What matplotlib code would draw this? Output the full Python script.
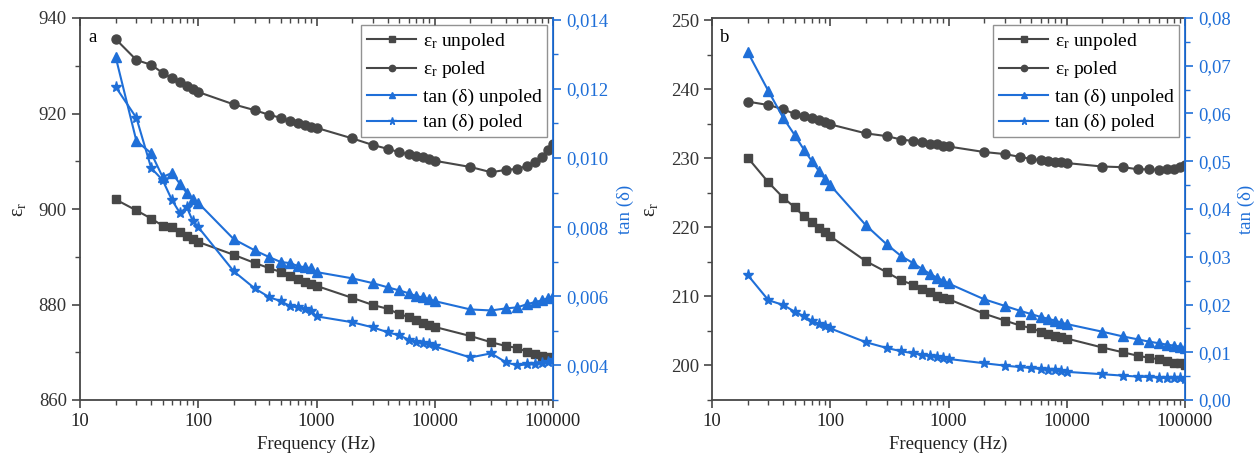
import matplotlib
matplotlib.use("Agg")
import matplotlib.pyplot as plt
from matplotlib.ticker import FuncFormatter, MultipleLocator, LogLocator, NullFormatter

# frequencies (Hz)
freq = [20, 30, 40, 50, 60, 70, 80, 90,
        100, 200, 300, 400, 500, 600, 700, 800, 900,
        1000, 2000, 3000, 4000, 5000, 6000, 7000, 8000, 9000,
        10000, 20000, 30000, 40000, 50000, 60000, 70000, 80000, 90000,
        100000]

# panel a
a_er_unpoled = [902.0, 899.7, 898.0, 896.5, 896.2, 895.2, 894.3, 893.7,
                893.1, 890.4, 888.7, 887.6, 886.8, 886.0, 885.3, 884.7, 884.3,
                883.9, 881.4, 879.9, 879.1, 878.0, 877.4, 876.8, 876.1, 875.7,
                875.3, 873.4, 872.1, 871.3, 870.9, 870.1, 869.6, 869.2, 869.0,
                868.8]
a_er_poled = [935.6, 931.2, 930.2, 928.5, 927.4, 926.6, 925.8, 925.1,
              924.5, 921.9, 920.7, 919.7, 919.1, 918.4, 918.0, 917.6, 917.2,
              917.0, 914.8, 913.4, 912.6, 911.9, 911.5, 911.1, 910.9, 910.5,
              910.1, 908.8, 907.7, 908.2, 908.4, 909.0, 909.8, 910.9, 912.3,
              913.6]
a_tan_unpoled = [0.01293, 0.01049, 0.01014, 0.00945, 0.00957, 0.00925, 0.00899, 0.00881,
                 0.00870, 0.00765, 0.00733, 0.00713, 0.00699, 0.00696, 0.00687, 0.00684, 0.00681,
                 0.00670, 0.00652, 0.00638, 0.00626, 0.00617, 0.00609, 0.00600, 0.00597, 0.00591,
                 0.00586, 0.00562, 0.00559, 0.00565, 0.00568, 0.00577, 0.00583, 0.00588, 0.00594,
                 0.00600]
a_tan_poled = [0.01206, 0.01116, 0.00971, 0.00936, 0.00878, 0.00841, 0.00858, 0.00817,
               0.00800, 0.00672, 0.00623, 0.00597, 0.00586, 0.00571, 0.00568, 0.00562, 0.00557,
               0.00542, 0.00525, 0.00510, 0.00496, 0.00487, 0.00475, 0.00467, 0.00464, 0.00461,
               0.00455, 0.00423, 0.00435, 0.00409, 0.00400, 0.00403, 0.00403, 0.00406, 0.00409,
               0.00415]

# panel b
b_er_unpoled = [230.1, 226.5, 224.3, 222.9, 221.6, 220.7, 219.9, 219.3,
                218.7, 215.1, 213.5, 212.3, 211.7, 211.0, 210.6, 210.0, 209.7,
                209.6, 207.5, 206.5, 205.8, 205.4, 204.9, 204.6, 204.3, 204.1,
                203.9, 202.6, 201.9, 201.4, 201.1, 200.9, 200.6, 200.4, 200.3,
                200.1]
b_er_poled = [238.2, 237.7, 237.1, 236.4, 236.1, 235.8, 235.5, 235.3,
              234.9, 233.6, 233.2, 232.7, 232.5, 232.3, 232.1, 232.0, 231.8,
              231.7, 230.9, 230.6, 230.2, 229.9, 229.7, 229.6, 229.4, 229.4,
              229.3, 228.8, 228.7, 228.4, 228.4, 228.3, 228.4, 228.4, 228.7,
              229.0]
b_tan_unpoled = [0.0729, 0.0647, 0.0591, 0.0555, 0.0524, 0.0500, 0.0480, 0.0463,
                 0.0450, 0.0366, 0.0326, 0.0301, 0.0287, 0.0274, 0.0264, 0.0256, 0.0250,
                 0.0244, 0.0211, 0.0197, 0.0187, 0.0180, 0.0174, 0.0170, 0.0166, 0.0162,
                 0.0159, 0.0143, 0.0133, 0.0127, 0.0122, 0.0119, 0.0116, 0.0114, 0.0112,
                 0.0108]
b_tan_poled = [0.0262, 0.0209, 0.0199, 0.0185, 0.0175, 0.0166, 0.0159, 0.0155,
               0.0150, 0.0121, 0.0109, 0.0102, 0.0098, 0.0094, 0.0092, 0.0090, 0.0088,
               0.0086, 0.0077, 0.0072, 0.0069, 0.0067, 0.0065, 0.0063, 0.0062, 0.0061,
               0.0059, 0.0054, 0.0051, 0.0049, 0.0048, 0.0047, 0.0046, 0.0046, 0.0046,
               0.0045]

GRAY = '#474747'
BLUE = '#1f6fd8'

plt.rcParams['font.family'] = ['Liberation Serif', 'DejaVu Serif']
plt.rcParams['mathtext.fontset'] = 'custom'
plt.rcParams['mathtext.rm'] = 'Liberation Serif'
plt.rcParams['mathtext.it'] = 'Liberation Serif'
plt.rcParams['font.size'] = 13.5

ER = 'ε$_\\mathrm{r}$'


def comma_fmt(decimals):
    return FuncFormatter(lambda v, p: f'{v:.{decimals}f}'.replace('.', ','))


def panel(rect, letter, er_un, er_po, tan_un, tan_po, ylim, ymaj, ymin, y2lim, y2maj, y2min, dec, rpad):
    ax = fig.add_axes(rect)
    ax2 = ax.twinx()

    l1, = ax.plot(freq, er_un, '-s', color=GRAY, ms=6, lw=1.5, label=ER + ' unpoled')
    l2, = ax.plot(freq, er_po, '-o', color=GRAY, ms=6.5, lw=1.5, label=ER + ' poled')
    l3, = ax2.plot(freq, tan_un, '-^', color=BLUE, ms=7, lw=1.5, label='tan (δ) unpoled')
    l4, = ax2.plot(freq, tan_po, '-*', color=BLUE, ms=8, lw=1.5, label='tan (δ) poled')

    ax.set_xscale('log')
    ax.set_xlim(10, 100000)
    ax.xaxis.set_major_locator(LogLocator(base=10, numticks=10))
    ax.xaxis.set_minor_locator(LogLocator(base=10, subs=range(2, 10), numticks=20))
    ax.xaxis.set_minor_formatter(NullFormatter())
    ax.xaxis.set_major_formatter(FuncFormatter(lambda v, p: f'{int(round(v))}'))

    ax.set_ylim(*ylim)
    ax.yaxis.set_major_locator(MultipleLocator(ymaj))
    ax.yaxis.set_minor_locator(MultipleLocator(ymin))
    ax2.set_ylim(*y2lim)
    ax2.yaxis.set_major_locator(MultipleLocator(y2maj))
    ax2.yaxis.set_minor_locator(MultipleLocator(y2min))
    ax2.yaxis.set_major_formatter(comma_fmt(dec))

    for s in ['left', 'bottom', 'top']:
        ax.spines[s].set_color(GRAY)
        ax.spines[s].set_linewidth(1.3)
    ax2.spines['right'].set_color(BLUE)
    ax2.spines['right'].set_linewidth(1.3)
    for s in ['left', 'bottom', 'top']:
        ax2.spines[s].set_visible(False)

    ax.tick_params(axis='x', which='both', direction='out', top=True, colors=GRAY, labelcolor='#222222')
    ax.tick_params(axis='x', which='major', length=6, width=1.2)
    ax.tick_params(axis='x', which='minor', length=3.5, width=1)
    ax.tick_params(axis='y', which='both', direction='out', colors=GRAY, labelcolor='#333333')
    ax.tick_params(axis='y', which='major', length=6, width=1.2)
    ax.tick_params(axis='y', which='minor', length=3.5, width=1)
    # top ticks point inward
    for t in ax.xaxis.get_major_ticks() + ax.xaxis.get_minor_ticks():
        t.tick2line.set_marker(3)

    ax2.tick_params(axis='y', which='both', direction='out', colors=BLUE)
    ax2.tick_params(axis='y', which='major', length=6, width=1.2)
    ax2.tick_params(axis='y', which='minor', length=3.5, width=1)

    ax.set_xlabel('Frequency (Hz)', color='#222222')
    ax.set_ylabel(ER, color='#222222', fontsize=14.5, labelpad=8)
    ax2.set_ylabel('tan (δ)', color=BLUE, labelpad=rpad)

    ax.text(0.017, 0.95, letter, transform=ax.transAxes, fontsize=13.5, va='center')

    leg = ax2.legend([l1, l2, l3, l4], [l.get_label() for l in (l1, l2, l3, l4)],
                     loc='upper right', bbox_to_anchor=(0.988, 0.982), frameon=True,
                     fancybox=False, edgecolor='#777777', handlelength=2.5,
                     handletextpad=0.35, borderpad=0.3, labelspacing=0.4,
                     markerscale=0.7, borderaxespad=0, fontsize=14)
    leg.get_frame().set_linewidth(1.0)
    return ax, ax2


fig = plt.figure(figsize=(12.59, 4.68), dpi=100)

panel([80 / 1259, 68 / 468, 473 / 1259, 382 / 468], 'a',
      a_er_unpoled, a_er_poled, a_tan_unpoled, a_tan_poled,
      (860, 940), 20, 10, (0.003, 0.01405), 0.002, 0.001, 3, 6)
panel([712 / 1259, 68 / 468, 473 / 1259, 382 / 468], 'b',
      b_er_unpoled, b_er_poled, b_tan_unpoled, b_tan_poled,
      (195, 250.3), 10, 5, (0.0, 0.08), 0.01, 0.005, 2, 5)

fig.savefig('out.png', dpi=100)
